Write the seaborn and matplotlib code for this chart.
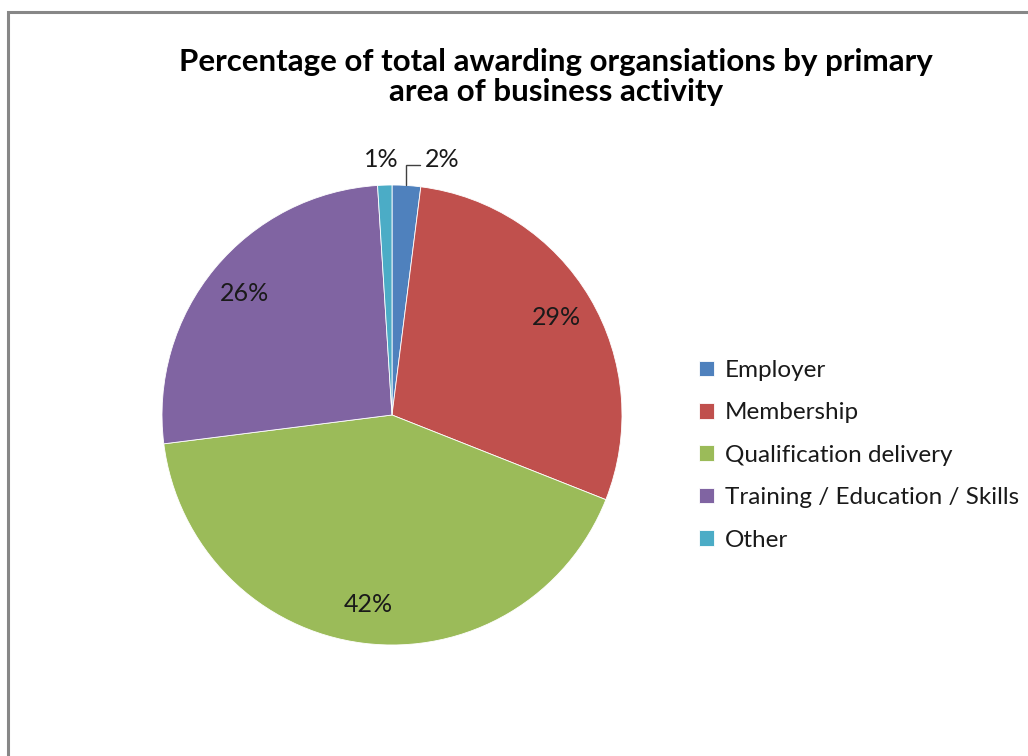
import matplotlib
matplotlib.use("Agg")
import matplotlib.pyplot as plt
from matplotlib.patches import Rectangle
import numpy as np
import seaborn as sns

title = "Percentage of total awarding organsiations by primary\narea of business activity"
categories = ["Employer", "Membership", "Qualification delivery",
              "Training / Education / Skills", "Other"]
shares = [2, 29, 42, 26, 1]
colors = ["#4F81BD", "#C0504D", "#9BBB59", "#8064A2", "#4BACC6"]

sns.set_theme(style="white")
plt.rcParams["font.family"] = ["Lato", "DejaVu Sans"]

W, H = 1028, 756
fig = plt.figure(figsize=(W / 100, H / 100), dpi=100)
fig.patch.set_facecolor("white")

# outer chart-area border (runs off the right and bottom edges)
fig.patches.append(Rectangle((8 / W, -0.05), 1.2, 1 - 12 / H + 0.05,
                             transform=fig.transFigure, fill=False,
                             edgecolor="#878787", linewidth=2.2, zorder=0))

cx, cy, r = 392, 415, 230
ax = fig.add_axes([(cx - r) / W, (H - cy - r) / H, 2 * r / W, 2 * r / H])
wedges, _ = ax.pie(shares, colors=colors, startangle=90, counterclock=False,
                   wedgeprops=dict(edgecolor="white", linewidth=0.6))
ax.set_xlim(-1, 1)
ax.set_ylim(-1, 1)
ax.set_aspect("equal")
ax.axis("off")

label_kw = dict(fontsize=18, color="#1a1a1a", clip_on=False)

# percentage labels: inside the larger slices, outside the small ones
for w, v in zip(wedges, shares):
    mid = np.deg2rad((w.theta1 + w.theta2) / 2)
    x, y = np.cos(mid), np.sin(mid)
    if v >= 5:
        ax.text(0.83 * x, 0.83 * y, f"{v}%", ha="center", va="center",
                **label_kw)
    elif v == 2:
        # elbow leader line from the slice edge to the label
        ax.plot([x, x, 0.122], [y, 1.087, 1.087], color="#404040", lw=1,
                clip_on=False, solid_joinstyle="miter")
        ax.text(0.142, 1.11, f"{v}%", ha="left", va="center", **label_kw)
    else:
        ax.text(-0.045, 1.11, f"{v}%", ha="center", va="center", **label_kw)

fig.text(556 / W, 1 - 77 / H, title, ha="center", va="center",
         fontsize=22.5, fontweight="bold", color="black", linespacing=1.1)

leg = fig.legend(wedges, categories, loc="upper left",
                 bbox_to_anchor=(699 / W, 1 - 360 / H), frameon=False,
                 fontsize=17.5, handlelength=0.62, handleheight=0.62,
                 handletextpad=0.45, labelspacing=0.88, borderpad=0,
                 borderaxespad=0)
for t in leg.get_texts():
    t.set_color("#1a1a1a")

fig.savefig("out.png", dpi=100, facecolor="white")
